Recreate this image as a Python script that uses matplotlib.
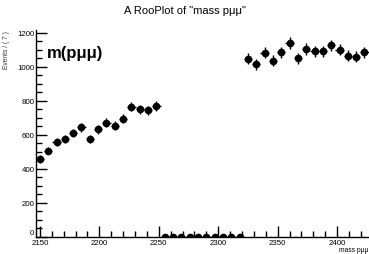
import numpy as np
import matplotlib.pyplot as plt
from matplotlib.ticker import MultipleLocator, FuncFormatter

plt.rcParams['font.family'] = ['Liberation Sans', 'DejaVu Sans']

# bin centres (width 7) and counts
bin_start = 2150
bin_width = 7
counts = [458, 507, 558, 576, 610, 643, 576, 631, 671, 653, 694, 765, 749, 744, 769,
          0, 0, 0, 0, 0, 0, 0, 0, 0, 0,
          1045, 1014, 1081, 1034, 1085, 1138, 1050, 1103, 1089, 1089, 1125, 1099, 1065, 1057, 1085]
centers = bin_start + bin_width * np.arange(len(counts))
y = np.array(counts, dtype=float)
yerr = np.sqrt(y)

fig = plt.figure(figsize=(3.69, 2.55), dpi=100)
ax = fig.add_axes([0.0968, 0.0667, 0.9022, 0.8117])

ax.errorbar(centers, y, yerr=yerr, xerr=bin_width / 2, fmt='o', color='black',
            ms=4.5, elinewidth=1.0, capsize=0)

ax.set_xlim(2146.5, 2426.5)
ax.set_ylim(0, 1215)
ax.xaxis.set_major_locator(MultipleLocator(50))
ax.xaxis.set_minor_locator(MultipleLocator(10))
ax.yaxis.set_major_locator(MultipleLocator(200))
ax.yaxis.set_minor_locator(MultipleLocator(50))
# "0" is drawn separately, just above the "2150" label
ax.yaxis.set_major_formatter(FuncFormatter(lambda v, p: '' if v == 0 else '%d' % v))
ax.tick_params(which='both', direction='in', labelsize=5.7, width=1.0)
ax.tick_params(axis='x', pad=1.5)
ax.tick_params(axis='y', pad=1.0)
ax.tick_params(which='major', length=8)
ax.tick_params(which='minor', length=4)
ax.annotate('0', xy=(0, 0), xycoords='axes fraction', xytext=(-1.5, 0.5),
            textcoords='offset points', ha='right', va='bottom', fontsize=5.7)

ax.spines['top'].set_visible(False)
ax.spines['left'].set_linewidth(1.0)
ax.spines['bottom'].set_linewidth(1.0)
ax.spines['right'].set_linewidth(0.6)
ax.spines['right'].set_color('#888888')

fig.text(0.5, 0.955, 'A RooPlot of "mass p\u03bc\u03bc"', ha='center', va='center', fontsize=8)
ax.text(0.035, 0.89, 'm(p\u03bc\u03bc)', transform=ax.transAxes, fontsize=12,
        fontweight='bold', ha='left', va='center')
fig.text(0.018, 0.878, 'Events / ( 7 )', rotation=90, ha='center', va='top', fontsize=4.8,
         color='#333333')
fig.text(0.999, 0.005, 'mass p\u03bc\u03bc', ha='right', va='bottom', fontsize=4.8)

fig.savefig('out.png', dpi=100)
